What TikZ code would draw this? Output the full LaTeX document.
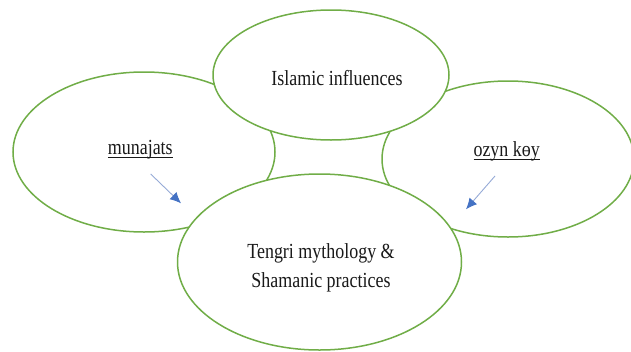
\documentclass[tikz,border=0pt]{standalone}
\usepackage{fontspec}
\setmainfont{Liberation Serif}
\usepackage{graphicx}
\usetikzlibrary{positioning,shapes.geometric,arrows.meta}

\definecolor{ringgreen}{RGB}{112,173,71}
\definecolor{tipblue}{RGB}{68,114,196}
\definecolor{shaftblue}{RGB}{150,170,215}
\newcommand{\narrowtext}[1]{\scalebox{0.835}[1]{#1}}
\newcommand{\ulword}[1]{\setbox0\hbox{#1}\rlap{\raisebox{-4pt}{\rule{\wd0}{1.1pt}}}\box0}

\begin{document}
\begin{tikzpicture}[x=1pt,y=-1pt,
  bubble/.style={draw=ringgreen, line width=1.5pt, fill=white, ellipse, inner sep=0pt},
  lbl/.style={text=black!90, font=\fontsize{21.5}{29}\selectfont, inner sep=0pt},
  hint/.style={draw=shaftblue, line width=0.9pt, -{Latex[length=11pt,width=10pt,color=tipblue]}}]
  \useasboundingbox (0,0) rectangle (631,351);
  \clip (0,0) rectangle (631,351);

  % side bubbles first, the two middle ones go on top
  \node[bubble, minimum width=262pt, minimum height=160pt] (mun) at (144,152) {};
  \node[bubble, minimum width=252pt, minimum height=156pt] (ozy) at (508,159) {};
  \node[bubble, minimum width=236pt, minimum height=130pt] (isl) at (331,75) {};
  \node[bubble, minimum width=284pt, minimum height=176pt] (ten) at (319.5,262) {};

  \node[lbl, anchor=base] (islt) at (337,85) {\narrowtext{Islamic influences}};
  \node[lbl, anchor=base] (munt) at (140.3,154) {\narrowtext{\ulword{munajats}}};
  \node[lbl, anchor=base] (ozyt) at (506.7,156) {\narrowtext{\ulword{ozyn kөy}}};
  \node[lbl, align=center] (tent) at (321,268) {\narrowtext{Tengri mythology \&}\\\narrowtext{Shamanic practices}};

  % little arrows pointing inwards
  \coordinate (munfrom) at (150.7,174);
  \coordinate (munto) at (181,203.3);
  \coordinate (ozyfrom) at (495,176);
  \coordinate (ozyto) at (466,209.3);
  \draw[hint] (munfrom) -- (munto);
  \draw[hint] (ozyfrom) -- (ozyto);
\end{tikzpicture}
\end{document}
